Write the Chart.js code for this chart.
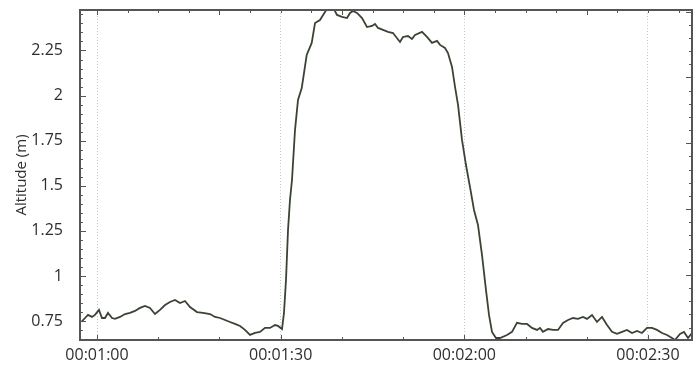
<!DOCTYPE html>
<html>
<head>
<meta charset="utf-8">
<script src="https://cdn.jsdelivr.net/npm/chart.js@4"></script>
<style>
  html, body { margin: 0; padding: 0; background: #fff; }
</style>
</head>
<body>
<canvas id="altChart" width="697" height="367"></canvas>
<script>
// time (s) and altitude (m)
const times = [
  57.50, 58.04, 58.53, 59.18, 59.67, 60.32, 60.81, 61.30, 61.79, 62.45,
  62.94, 63.75, 64.57, 65.39, 66.20, 67.02, 67.84, 68.65, 69.47, 70.29,
  71.11, 71.92, 72.74, 73.56, 74.37, 75.19, 76.33, 77.31, 78.46, 79.27,
  80.09, 80.91, 81.72, 82.54, 83.36, 84.17, 84.99, 85.81, 86.62, 87.44,
  88.26, 89.07, 89.56, 90.22, 90.54, 90.87, 91.20, 91.52, 91.85, 92.34,
  92.83, 93.44, 94.25, 95.07, 95.61, 96.42, 97.24, 97.73, 98.55, 99.20,
  100.02, 100.83, 101.33, 101.82, 102.47, 103.29, 104.10, 104.92, 105.41, 105.90,
  106.72, 107.53, 108.35, 109.49, 109.98, 110.80, 111.45, 111.94, 113.09, 113.90,
  114.72, 115.54, 116.03, 116.84, 117.33, 117.99, 118.48, 118.97, 119.62, 120.27,
  120.93, 121.58, 122.23, 122.89, 123.54, 124.03, 124.52, 125.17, 125.83, 126.97,
  127.79, 128.60, 129.42, 130.24, 131.05, 131.87, 132.36, 132.85, 133.67, 134.49,
  135.30, 136.12, 136.94, 137.75, 138.57, 139.39, 140.04, 140.86, 141.67, 142.49,
  143.31, 144.12, 144.94, 145.76, 146.57, 147.39, 148.21, 149.02, 149.84, 150.66,
  151.47, 152.29, 153.11, 153.92, 154.41, 155.23, 155.88, 156.54, 157.19
];
const altitude = [
  0.747, 0.767, 0.784, 0.773, 0.784, 0.812, 0.767, 0.767, 0.795, 0.767,
  0.762, 0.773, 0.789, 0.795, 0.806, 0.823, 0.834, 0.823, 0.789, 0.812,
  0.839, 0.856, 0.867, 0.850, 0.861, 0.828, 0.800, 0.795, 0.789, 0.773,
  0.767, 0.756, 0.745, 0.734, 0.723, 0.701, 0.673, 0.684, 0.690, 0.712,
  0.712, 0.728, 0.723, 0.706, 0.795, 0.978, 1.255, 1.421, 1.532, 1.809,
  1.976, 2.042, 2.225, 2.292, 2.402, 2.419, 2.463, 2.490, 2.490, 2.447,
  2.436, 2.430, 2.458, 2.469, 2.458, 2.430, 2.380, 2.386, 2.397, 2.375,
  2.364, 2.353, 2.347, 2.297, 2.325, 2.330, 2.314, 2.336, 2.353, 2.325,
  2.292, 2.303, 2.281, 2.264, 2.236, 2.159, 2.048, 1.948, 1.754, 1.615,
  1.493, 1.366, 1.283, 1.116, 0.922, 0.784, 0.690, 0.656, 0.656, 0.673,
  0.690, 0.740, 0.734, 0.734, 0.712, 0.701, 0.712, 0.690, 0.706, 0.701,
  0.701, 0.740, 0.756, 0.767, 0.762, 0.773, 0.762, 0.784, 0.745, 0.773,
  0.728, 0.690, 0.679, 0.690, 0.701, 0.684, 0.695, 0.684, 0.712, 0.712,
  0.701, 0.684, 0.673, 0.656, 0.645, 0.679, 0.690, 0.656, 0.684
];
const xTicks = [60, 90, 120, 150];
const yTicks = [0.75, 1, 1.25, 1.5, 1.75, 2, 2.25];

const FRAME = '#555';
const TEXT = '#2e2e2e';

function fmtTime(sec) {
  const m = Math.floor(sec / 60);
  const s = Math.round(sec % 60);
  return '00:' + String(m).padStart(2, '0') + ':' + String(s).padStart(2, '0');
}

// frame + small inward ticks on all four sides
const frameTicks = {
  id: 'frameTicks',
  afterDraw(chart) {
    const { ctx, chartArea: a, scales } = chart;
    const xs = scales.x, ys = scales.y;
    ctx.save();
    ctx.strokeStyle = FRAME;
    ctx.lineWidth = 1;
    ctx.beginPath();
    // left side, every 0.05, longer at 0.25
    for (let i = 13; i <= 49; i++) {
      const v = i * 0.05;
      const py = Math.round(ys.getPixelForValue(v)) + 0.5;
      if (py < a.top || py > a.bottom) continue;
      const len = (i % 5 === 0) ? 6 : 3;
      ctx.moveTo(a.left, py); ctx.lineTo(a.left + len, py);
    }
    // right side, own spacing
    for (let i = -1; i <= 25; i++) {
      const v = 1.006 + (i - 5) * 0.073;
      const py = Math.round(ys.getPixelForValue(v)) + 0.5;
      if (py < a.top + 2 || py > a.bottom - 2) continue;
      const len = (i % 5 === 0) ? 6 : 3;
      ctx.moveTo(a.right, py); ctx.lineTo(a.right - len, py);
    }
    // bottom, every 10 s
    for (let t = 60; t <= 160; t += 10) {
      const px = Math.round(xs.getPixelForValue(t)) + 0.5;
      if (px < a.left || px > a.right) continue;
      const len = (t % 30 === 0) ? 5 : 3;
      ctx.moveTo(px, a.bottom); ctx.lineTo(px, a.bottom - len);
    }
    // top, every 5 s
    for (let t = 60; t <= 160; t += 5) {
      const px = Math.round(xs.getPixelForValue(t)) + 0.5;
      if (px < a.left || px > a.right) continue;
      const len = (t % 20 === 0) ? 5 : 3;
      ctx.moveTo(px, a.top); ctx.lineTo(px, a.top + len);
    }
    ctx.stroke();
    ctx.lineWidth = 2;
    ctx.strokeRect(a.left, a.top, a.right - a.left, a.bottom - a.top);
    ctx.restore();
  }
};

new Chart(document.getElementById('altChart').getContext('2d'), {
  type: 'line',
  data: {
    datasets: [{
      data: times.map((t, i) => ({ x: t, y: altitude[i] })),
      borderColor: '#3a4434',
      borderWidth: 1.8,
      pointRadius: 0,
      tension: 0,
      fill: false
    }]
  },
  options: {
    responsive: false,
    animation: false,
    layout: { padding: { left: 0, right: 5, top: 10, bottom: 0 } },
    plugins: { legend: { display: false }, tooltip: { enabled: false } },
    scales: {
      x: {
        type: 'linear',
        min: 57.22,
        max: 157.19,
        afterBuildTicks: s => { s.ticks = xTicks.map(v => ({ value: v })); },
        afterFit: s => { s.height = 27; s.paddingLeft = 0; s.paddingRight = 0; },
        grid: { color: '#c4c4c4', lineWidth: 1, drawTicks: false },
        border: { display: false, dash: [1, 2] },
        ticks: {
          padding: 6,
          color: TEXT,
          maxRotation: 0,
          autoSkip: false,
          font: { family: 'Open Sans', size: 16 },
          callback: v => fmtTime(v)
        }
      },
      y: {
        min: 0.645,
        max: 2.4745,
        afterBuildTicks: s => { s.ticks = yTicks.map(v => ({ value: v })); },
        afterFit: s => { s.width = 80; s.paddingTop = 0; s.paddingBottom = 0; },
        grid: { display: false },
        border: { display: false },
        ticks: {
          padding: 9,
          color: TEXT,
          font: { family: 'Open Sans', size: 16 },
          callback: v => String(v)
        },
        title: {
          display: true,
          text: 'Altitude (m)',
          color: TEXT,
          font: { family: 'Open Sans', size: 15 },
          padding: { top: 13, bottom: 0 }
        }
      }
    }
  },
  plugins: [frameTicks]
});
</script>
</body>
</html>
